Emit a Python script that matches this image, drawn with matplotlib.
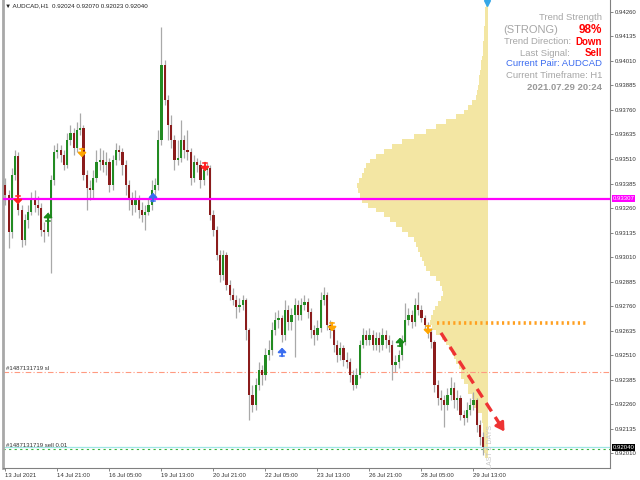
import numpy as np
import matplotlib.pyplot as plt
from matplotlib.transforms import blended_transform_factory

# AUDCAD H1, shown here as 2-hour candles, prices in points (1e-5)
first_open = 93377
close_pts = [
    93327, 93138, 93428, 93525, 93250, 93097, 93199, 93240, 93301, 93275,
    93260, 93148, 93138, 93209, 93403, 93546, 93556, 93530, 93479, 93607,
    93643, 93566, 93658, 93668, 93428, 93362, 93352, 93413, 93495, 93505,
    93479, 93495, 93377, 93505, 93556, 93546, 93479, 93377, 93301, 93275,
    93301, 93250, 93224, 93240, 93275, 93352, 93377, 93607, 93989, 93811,
    93683, 93607, 93505, 93515, 93607, 93556, 93546, 93413, 93495, 93479,
    93403, 93454, 93464, 93224, 93148, 93020, 92918, 93020, 92867, 92816,
    92791, 92755, 92765, 92791, 92638, 92306, 92255, 92357, 92434, 92408,
    92510, 92536, 92638, 92689, 92699, 92612, 92740, 92679, 92714, 92765,
    92714, 92765, 92781, 92730, 92638, 92612, 92648, 92791, 92816, 92663,
    92638, 92561, 92510, 92546, 92485, 92475, 92408, 92357, 92408, 92561,
    92612, 92587, 92612, 92561, 92597, 92561, 92612, 92587, 92561, 92459,
    92475, 92510, 92577, 92689, 92714, 92679, 92765, 92740, 92699, 92663,
    92628, 92577, 92357, 92291, 92281, 92255, 92306, 92342, 92281, 92291,
    92204, 92189, 92230, 92255, 92281, 92153, 92092, 92040]
high_pts = [
    93413, 93352, 93464, 93556, 93546, 93275, 93230, 93275, 93342, 93352,
    93321, 93286, 93189, 93240, 93428, 93582, 93592, 93582, 93556, 93643,
    93683, 93668, 93699, 93745, 93683, 93454, 93403, 93454, 93556, 93566,
    93556, 93546, 93515, 93530, 93592, 93582, 93566, 93505, 93403, 93342,
    93352, 93327, 93291, 93275, 93311, 93403, 93413, 93658, 94183, 94015,
    93837, 93735, 93633, 93607, 93709, 93633, 93658, 93566, 93530, 93515,
    93505, 93479, 93490, 93479, 93250, 93168, 93046, 93046, 93036, 92893,
    92852, 92816, 92801, 92816, 92801, 92648, 92357, 92393, 92475, 92459,
    92546, 92587, 92679, 92730, 92740, 92714, 92791, 92765, 92750, 92801,
    92791, 92801, 92816, 92801, 92750, 92663, 92689, 92832, 92857, 92832,
    92689, 92658, 92587, 92577, 92561, 92526, 92495, 92434, 92444, 92587,
    92648, 92638, 92648, 92638, 92628, 92628, 92648, 92638, 92612, 92587,
    92510, 92536, 92612, 92776, 92750, 92740, 92801, 92832, 92765, 92714,
    92679, 92648, 92587, 92383, 92332, 92306, 92342, 92398, 92373, 92332,
    92306, 92230, 92271, 92291, 92322, 92291, 92179, 92118]
low_pts = [
    93275, 93056, 93107, 93403, 93224, 93061, 93072, 93158, 93224, 93240,
    93224, 93117, 93087, 93117, 92929, 93377, 93515, 93495, 93454, 93464,
    93582, 93530, 93546, 93633, 93403, 93250, 93301, 93311, 93393, 93454,
    93444, 93428, 93342, 93352, 93479, 93505, 93428, 93327, 93250, 93224,
    93240, 93209, 93189, 93148, 93224, 93250, 93311, 93352, 93582, 93786,
    93607, 93566, 93454, 93479, 93495, 93515, 93505, 93377, 93393, 93444,
    93362, 93377, 93428, 93199, 93117, 92995, 92883, 92893, 92842, 92791,
    92765, 92699, 92730, 92740, 92587, 92179, 92220, 92230, 92332, 92357,
    92383, 92485, 92510, 92612, 92648, 92577, 92587, 92638, 92638, 92500,
    92689, 92689, 92740, 92699, 92597, 92561, 92587, 92628, 92765, 92638,
    92597, 92526, 92475, 92485, 92454, 92444, 92373, 92332, 92342, 92393,
    92546, 92561, 92561, 92536, 92536, 92526, 92536, 92546, 92526, 92383,
    92424, 92444, 92485, 92561, 92663, 92648, 92658, 92714, 92679, 92638,
    92597, 92546, 92322, 92255, 92230, 92143, 92230, 92281, 92240, 92230,
    92179, 92153, 92169, 92204, 92230, 92118, 92052, 92000]

# volume profile of the last 5 days (bins of 0.00025 from 0.92000 up)
profile_vol = [3, 4, 5, 5, 5, 5, 5, 6, 6, 12,
               14, 14, 16, 20, 20, 24, 27, 27, 29, 32,
               34, 36, 39, 42, 46, 52, 56, 58, 57, 55,
               53, 50, 47, 45, 46, 48, 52, 58, 62, 64,
               66, 68, 70, 72, 74, 80, 86, 92, 98, 104,
               112, 120, 126, 128, 130, 131, 129, 126, 124, 122,
               118, 112, 104, 96, 86, 74, 62, 52, 42, 32,
               24, 20, 16, 12, 11, 10, 9, 9, 8, 7,
               7, 6, 5, 5, 5, 4, 4, 4, 3, 3,
               3, 3, 2, 2]

# signal arrows (hours from first bar, price, kind)
sig_hours = [7.7, 26.2, 47.1, 90.8, 122.8, 170.2, 201.0, 242.8, 260.0]
sig_prices = [0.93301, 0.93214, 0.93541, 0.93316, 0.93469, 0.92526, 0.92653, 0.92577, 0.92638]
sig_kinds = ['sell', 'buy', 'warn', 'info', 'sell', 'info', 'warn', 'buy', 'warn']

tick_hours = [0, 32, 64, 96, 128, 160, 192, 224, 256, 288]
tick_labels = ['13 Jul 2021', '14 Jul 21:00', '16 Jul 05:00', '19 Jul 13:00',
               '20 Jul 21:00', '22 Jul 05:00', '23 Jul 13:00', '26 Jul 21:00',
               '28 Jul 05:00', '29 Jul 13:00']
ytick_vals = [0.94260, 0.94135, 0.94010, 0.93885, 0.93760, 0.93635, 0.93510,
              0.93385, 0.93260, 0.93135, 0.93010, 0.92885, 0.92760, 0.92635,
              0.92510, 0.92385, 0.92260, 0.92135, 0.92010]

level_price = 0.93307
sl_price = 0.92425
sell_price = 0.92030
bid_price = 0.92040
target_price = 0.92675


def main():
    plt.rcParams['font.family'] = ['Liberation Sans', 'DejaVu Sans']
    closes = np.array(close_pts) / 1e5
    highs = np.array(high_pts) / 1e5
    lows = np.array(low_pts) / 1e5
    opens = np.concatenate([[first_open / 1e5], closes[:-1]])
    x = np.arange(len(closes)) * 2.0
    up = closes >= opens

    fig = plt.figure(figsize=(6.4, 4.8), dpi=100)
    ax = fig.add_axes([3 / 640, 12 / 480, 607 / 640, 468 / 480])
    ax.set_xlim(-1.5, 372)
    ax.set_ylim(0.91934, 0.94321)

    # volume profile
    prof_y = 0.92000 + 0.00025 * np.arange(len(profile_vol))
    pw = np.array(profile_vol) / max(profile_vol) * 80.6
    prof_right = 297
    ax.barh(prof_y, pw, left=prof_right - pw, height=0.00025, color='#f3e6a3',
            lw=0, zorder=1)

    # candles
    ax.vlines(x, lows, highs, color='#a9a9a9', lw=0.9, zorder=3)
    body_lo = np.minimum(opens, closes)
    body_h = np.maximum(np.abs(closes - opens), 0.00002)
    ax.bar(x[up], body_h[up], bottom=body_lo[up], width=1.3, color='#228b22', lw=0, zorder=4)
    ax.bar(x[~up], body_h[~up], bottom=body_lo[~up], width=1.3, color='#8b1c1c', lw=0, zorder=4)

    # lines
    ax.axhline(level_price, color='#ff00ff', lw=1.6, zorder=6)
    ax.axhline(sl_price, color='#ff9a80', lw=0.8, ls=(0, (5, 2, 1, 2)), zorder=2)
    ax.axhline(bid_price, color='#9fe6e6', lw=0.9, zorder=2)
    ax.axhline(sell_price, color='#3cb43c', lw=0.8, ls=(0, (2, 3)), zorder=2)
    ax.text(0.5, sl_price + 0.00004, '#1487131719 sl', fontsize=4.3, color='#333333', va='bottom')
    ax.text(0.5, sell_price + 0.00006, '#1487131719 sell 0.01', fontsize=4.3, color='#333333', va='bottom')

    ax.plot([265.6, 358], [target_price, target_price], color='#ffa020', lw=2.6,
            ls=(0, (0.6, 0.9)), zorder=5)

    # projected direction
    ax.plot([268, 304], [0.92623, 0.92160], color='#ee3333', lw=2.4, ls=(0, (3, 2)), zorder=5)
    ax.annotate('', xy=(308, 0.92108), xytext=(303, 0.92172),
                arrowprops=dict(arrowstyle='-|>,head_width=0.3,head_length=0.5',
                                color='#ee3333', lw=2.0), zorder=5)

    # signal arrows
    colors = {'sell': '#ff2020', 'buy': '#1a8a1a', 'warn': '#ffa500', 'info': '#3a6df0'}
    half = 0.00022
    for h, p, k in zip(sig_hours, sig_prices, sig_kinds):
        if k in ('sell', 'warn'):
            tail, tip = p + half, p - half
        else:
            tail, tip = p - half, p + half
        ax.annotate('', xy=(h, tip), xytext=(h, tail),
                    arrowprops=dict(arrowstyle='-|>,head_width=0.4,head_length=0.4',
                                    color=colors[k], lw=1.4, shrinkA=0, shrinkB=0,
                                    mutation_scale=6), zorder=7)
        ax.plot([h - 1.1, h + 1.1], [tail, tail], color=colors[k], lw=1.1, zorder=7)

    ax.plot([296.4], [0.94306], marker='v', color='#35a7e8', ms=4, zorder=7)
    ax.text(298.5, 0.92041, 'LAST 5 DAYS', rotation=90, fontsize=5, color='#c8c8c8',
            ha='center', va='center', zorder=7)

    # axes styling
    ax.yaxis.tick_right()
    ax.set_yticks(ytick_vals)
    ax.set_yticklabels(['%.5f' % v for v in ytick_vals])
    ax.set_xticks(tick_hours)
    ax.set_xticklabels(tick_labels)
    for lbl in ax.get_xticklabels():
        lbl.set_ha('left')
    ax.tick_params(axis='both', labelsize=4.3, length=2, width=0.5, colors='#555555',
                   labelcolor='#333333', pad=1.5)
    ax.spines['top'].set_visible(False)
    ax.spines['left'].set_color('#a8a8a8')
    ax.spines['left'].set_linewidth(2)
    for s in ('right', 'bottom'):
        ax.spines[s].set_color('#808080')
        ax.spines[s].set_linewidth(0.8)

    tr = blended_transform_factory(ax.transAxes, ax.transData)
    ax.text(1.004, level_price, '0.93307', transform=tr, fontsize=4.3, color='white',
            va='center', ha='left', bbox=dict(boxstyle='square,pad=0.15', fc='#ff00ff', ec='none'))
    ax.text(1.004, bid_price, '0.92040', transform=tr, fontsize=4.3, color='white',
            va='center', ha='left', bbox=dict(boxstyle='square,pad=0.15', fc='black', ec='none'))

    # header
    fig.text(5 / 640, 1 - 6 / 480, '▼ AUDCAD,H1  0.92024 0.92070 0.92023 0.92040',
             fontsize=4.5, color='#222222', va='center')

    # info panel
    gray = '#a6a6a6'
    def px(xp, yp):
        return xp / 640, 1 - yp / 480
    fig.text(*px(602, 17), 'Trend Strength', fontsize=6.8, color=gray, ha='right', va='center')
    fig.text(*px(503, 30), '(STRONG)', fontsize=8, color=gray, ha='left', va='center')
    fig.text(*px(602, 30), '98%', fontsize=8.5, color='#ff0000', fontweight='bold', ha='right', va='center')
    fig.text(*px(571, 42), 'Trend Direction:', fontsize=6.8, color=gray, ha='right', va='center')
    fig.text(*px(602, 42), 'Down', fontsize=7, color='#ff0000', fontweight='bold', ha='right', va='center')
    fig.text(*px(570, 53), 'Last Signal:', fontsize=6.8, color=gray, ha='right', va='center')
    fig.text(*px(602, 53), 'Sell', fontsize=7, color='#ff0000', fontweight='bold', ha='right', va='center')
    fig.text(*px(602, 64), 'Current Pair: AUDCAD', fontsize=6.8, color='#3c6cf0', ha='right', va='center')
    fig.text(*px(602, 76), 'Current Timeframe: H1', fontsize=6.8, color=gray, ha='right', va='center')
    fig.text(*px(602, 88), '2021.07.29 20:24', fontsize=6.8, color='#999999', fontweight='bold',
             ha='right', va='center')

    fig.savefig('out.png', dpi=100)


if __name__ == '__main__':
    main()
